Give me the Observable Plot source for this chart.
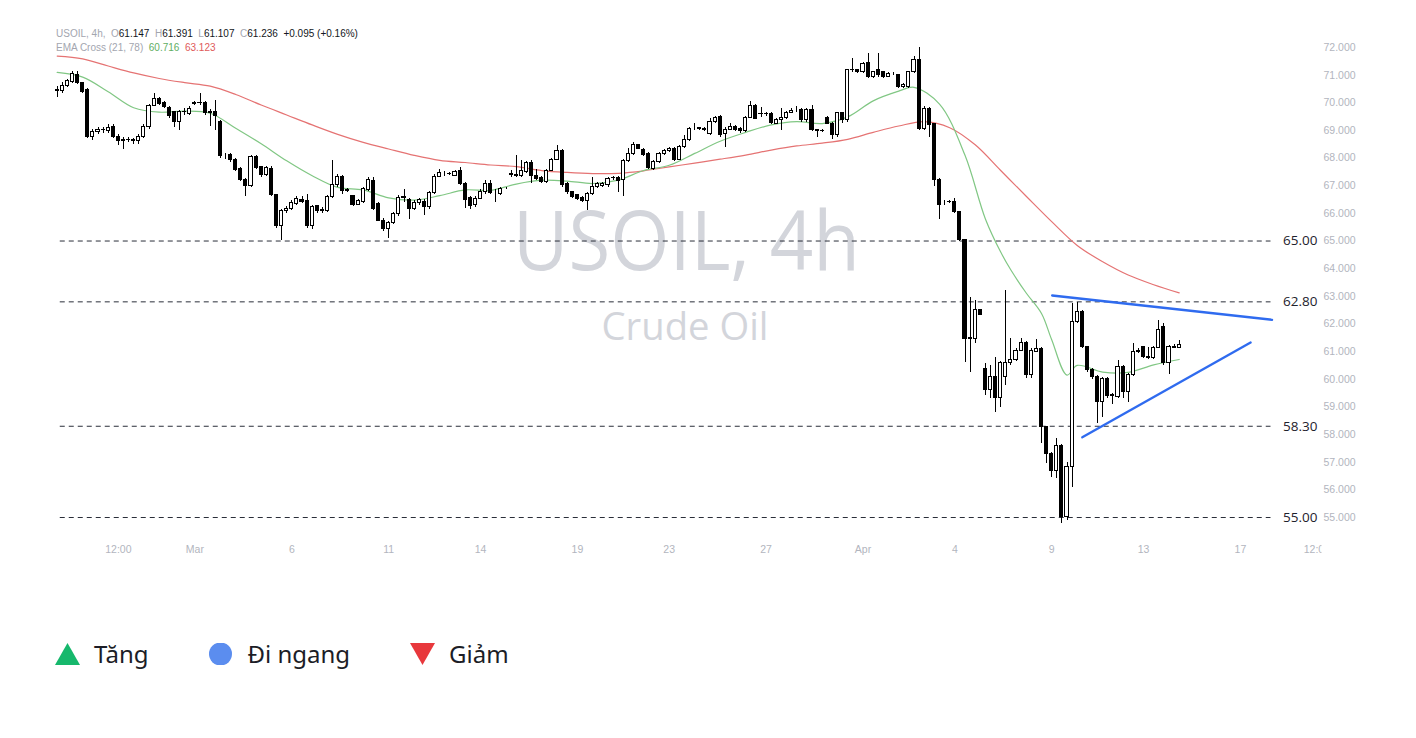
<!DOCTYPE html>
<html>
<head>
<meta charset="utf-8">
<script src="https://cdn.jsdelivr.net/npm/d3@7"></script>
<script src="https://cdn.jsdelivr.net/npm/@observablehq/plot@0.6"></script>
<style>
  html, body { margin: 0; padding: 0; background: #fff; }
  #wrap { position: relative; width: 1416px; height: 610px; }
  #info { position: absolute; left: 56px; top: 27px; font: 10px "Liberation Sans", sans-serif; line-height: 14px; color: #a3a6af; white-space: pre; }
  #info .v { color: #131722; }
  #legend { display: flex; align-items: center; margin-top: 27px; padding-left: 55px; font-family: "Noto Sans", sans-serif; font-size: 24px; line-height: 34px; color: #1c1d26; overflow: visible; }
  #legend .item { display: flex; align-items: center; margin-right: 60px; }
  #legend svg { margin-right: 14px; display: block; }
</style>
</head>
<body>
<div id="wrap">
  <div id="chart"></div>
  <div id="info"></div>
</div>
<div id="legend"></div>
<script>
// ---- Data (USOIL 4h candles) ----
const open = [
70.42,70.44,70.62,70.75,71.02,70.72,70.45,68.78,68.95,69.0,
68.97,69.12,68.78,68.62,68.66,68.65,68.61,68.76,69.12,69.9,
70.14,69.98,69.82,69.66,69.3,69.66,69.6,69.96,69.98,70.0,
69.62,69.68,69.3,68.06,68.1,67.94,67.6,67.22,67.0,68.05,
67.67,67.4,67.62,66.68,65.53,66.1,66.16,66.35,66.5,66.44,
65.53,66.25,66.1,66.1,66.6,67.01,67.33,66.8,66.62,66.32,
66.41,66.83,67.17,66.35,65.74,65.44,65.65,65.98,66.6,66.5,
66.17,66.37,66.41,66.23,66.73,67.33,67.43,67.43,67.37,67.55,
67.07,66.56,66.29,66.53,66.77,67.05,66.77,66.71,66.89,67.4,
67.4,67.37,67.49,67.82,67.37,67.29,67.13,67.55,67.94,68.27,
67.05,66.77,66.65,66.56,66.43,66.71,66.97,67.0,67.01,67.27,
67.29,67.19,67.91,68.15,68.46,68.3,68.15,67.61,67.85,68.15,
68.25,68.33,67.94,68.4,68.64,69.08,69.09,69.06,68.88,69.3,
69.5,68.88,69.02,69.14,69.05,68.97,69.46,69.9,69.6,69.58,
69.6,69.24,69.36,69.46,69.63,69.72,69.74,69.36,69.74,69.0,
68.98,69.46,69.24,68.82,69.62,69.38,71.17,71.19,71.11,71.43,
70.93,71.17,71.11,70.95,71.03,70.99,70.56,70.56,71.11,71.53,
69.06,69.78,69.24,67.21,66.4,66.4,66.4,66.04,65.02,61.46,
61.46,62.51,60.38,59.62,60.1,59.33,60.1,60.58,60.7,61.04,
61.31,60.14,61.0,61.1,58.27,57.3,56.7,57.6,55.01,56.82,
62.07,62.43,61.16,60.32,60.1,59.17,60.02,59.41,59.35,60.44,
59.54,60.14,61.0,61.16,60.8,60.78,61.14,61.9,60.58,61.15,61.147];
const high = [
70.6,70.74,70.85,71.15,71.15,70.75,70.5,69.05,69.1,69.12,
69.2,69.2,68.85,68.75,68.75,68.7,68.85,69.2,69.95,70.35,
70.2,70.05,69.85,69.7,69.72,69.8,69.85,70.05,70.35,70.05,
69.75,70.1,69.35,68.15,68.15,68.0,67.65,67.25,68.1,68.1,
67.7,67.7,67.7,66.7,66.15,66.25,66.45,66.62,66.6,66.7,
66.3,66.3,66.2,66.65,67.93,67.4,67.38,66.9,66.65,66.5,
66.95,67.3,67.3,66.4,65.8,65.7,66.05,66.65,66.85,66.55,
66.45,66.55,66.5,66.8,67.4,67.58,67.5,67.48,67.55,67.65,
67.1,66.6,66.6,66.85,67.19,67.19,66.85,66.95,66.95,67.55,
68.1,67.9,67.88,67.9,67.6,67.32,67.6,68.0,68.46,68.3,
67.1,66.8,66.7,66.6,66.75,67.31,67.1,67.12,67.3,67.35,
67.32,67.95,68.33,68.58,68.5,68.35,68.2,67.9,68.2,68.3,
68.4,68.38,68.45,68.82,69.1,69.24,69.12,69.1,69.42,69.5,
69.55,69.1,69.25,69.18,69.1,69.5,70.06,69.95,69.84,69.65,
69.65,69.42,69.78,69.68,69.78,69.86,69.78,69.78,69.9,69.05,
69.02,69.5,69.28,69.66,69.66,71.22,71.6,71.22,71.45,71.77,
71.15,71.8,71.15,71.1,71.08,71.02,70.7,71.15,71.68,72.0,
69.85,69.82,69.26,67.25,66.45,66.48,66.53,66.08,65.05,62.96,
62.85,62.52,60.56,60.5,60.8,60.65,63.2,61.46,61.1,61.46,
61.35,61.1,61.43,61.15,58.3,57.35,57.85,57.65,57.0,62.73,
62.78,62.5,61.2,60.4,60.15,60.08,60.05,59.5,60.68,60.5,
60.2,61.28,61.1,61.2,61.16,61.2,62.13,62.0,61.22,61.25,61.391];
const low = [
70.2,70.32,70.55,70.7,70.65,70.35,68.72,68.63,68.85,68.9,
68.9,68.7,68.45,68.3,68.55,68.5,68.5,68.7,69.05,69.85,
69.9,69.78,69.45,69.1,69.0,69.55,69.55,69.9,69.9,69.55,
69.15,69.0,68.0,67.95,67.85,67.5,67.15,66.6,66.95,67.6,
67.3,67.35,66.6,65.45,65.02,66.0,66.1,66.3,66.35,65.45,
65.4,66.0,66.0,66.05,66.55,66.95,66.7,66.75,66.25,66.28,
66.35,66.8,66.1,65.7,65.35,65.08,65.6,65.9,66.4,65.77,
66.1,66.3,65.93,66.15,66.7,67.3,67.35,67.38,67.35,67.0,
66.17,66.15,66.2,66.5,66.7,66.7,66.4,66.65,66.85,67.3,
67.3,67.3,67.45,67.07,67.2,67.08,67.08,67.5,67.9,66.95,
66.7,66.55,66.45,66.38,66.1,66.65,66.9,66.95,66.95,67.2,
66.77,66.61,67.85,68.1,68.3,68.05,67.6,67.55,67.8,68.1,
68.2,67.88,67.9,68.35,68.6,69.0,69.0,68.95,68.82,69.25,
68.75,68.4,68.98,68.95,68.9,68.93,69.42,69.38,69.46,69.52,
69.2,69.2,69.0,69.4,69.6,69.65,69.3,69.3,68.95,68.76,
68.92,69.2,68.66,68.75,69.24,69.3,71.1,71.05,71.05,70.88,
70.88,70.9,70.88,70.9,70.98,70.5,70.5,70.5,71.05,69.0,
69.0,68.76,66.97,65.77,66.3,66.35,65.98,64.98,60.62,60.24,
61.28,62.3,59.41,59.29,58.81,58.99,59.77,60.5,60.65,61.0,
60.02,60.02,60.97,57.66,56.94,56.46,56.4,54.77,54.9,56.1,
62.0,61.1,60.25,60.0,58.39,58.63,59.3,59.09,59.3,59.3,
59.17,60.1,60.95,60.75,60.7,60.72,61.1,60.5,60.17,61.1,61.107];
const close = [
70.48,70.62,70.78,71.05,70.72,70.38,68.78,68.95,69.0,69.02,
69.1,68.78,68.61,68.66,68.65,68.62,68.78,69.12,69.9,70.14,
69.96,69.84,69.54,69.3,69.66,69.68,69.78,69.98,70.0,69.62,
69.68,69.54,68.06,68.06,67.92,67.58,67.22,67.0,68.03,67.65,
67.4,67.65,66.68,65.53,66.1,66.15,66.37,66.53,66.42,65.53,
66.22,66.1,66.12,66.6,67.01,67.33,66.8,66.83,66.32,66.46,
66.89,67.19,66.17,65.74,65.44,65.65,65.98,66.56,66.55,66.17,
66.37,66.47,66.23,66.73,67.33,67.45,67.43,67.42,67.49,67.07,
66.49,66.25,66.53,66.77,67.05,66.73,66.77,66.89,66.89,67.43,
67.37,67.55,67.82,67.37,67.25,67.13,67.55,67.94,68.27,67.01,
66.77,66.61,66.53,66.43,66.71,66.97,67.05,67.07,67.25,67.29,
67.17,67.91,68.15,68.46,68.34,68.1,67.65,67.85,68.15,68.27,
68.33,67.94,68.4,68.64,69.06,69.08,69.06,69.0,69.3,69.45,
68.82,69.02,69.14,69.02,68.97,69.46,69.9,69.42,69.58,69.6,
69.26,69.38,69.46,69.63,69.72,69.72,69.36,69.74,69.02,68.98,
68.97,69.24,68.82,69.62,69.38,71.17,71.19,71.11,71.41,70.93,
71.11,70.99,70.93,71.05,71.03,70.56,70.64,71.11,71.55,69.06,
69.78,69.18,67.21,66.32,66.4,66.42,66.04,65.02,61.46,61.5,
62.49,62.31,59.6,60.1,59.33,60.58,60.6,60.7,61.04,61.31,
60.14,61.04,61.1,58.27,57.3,56.7,57.6,55.01,56.82,62.07,
62.43,61.16,60.32,60.1,59.17,60.02,59.41,59.43,60.44,59.54,
60.14,60.98,61.02,60.8,60.78,61.14,61.79,60.58,61.16,61.141,61.236];

// EMA 21 / EMA 78 read at candle indices
const ema21Idx = [0,5,10,15,20,25,30,35,40,45,50,55,60,65,70,75,80,85,90,95,100,105,110,115,120,125,130,135,140,145,150,155,160,165,168,173,178,182,185,187,190,193,195,198,200,205,210,215,220];
const ema21Val = [71.1,70.93,70.4,69.82,69.66,69.7,69.62,69.08,68.52,67.9,67.36,66.94,66.85,66.56,66.48,66.64,66.85,66.83,67.06,67.2,67.17,67.08,67.2,67.55,67.74,68.17,68.61,68.93,69.2,69.32,69.25,69.49,70.07,70.42,70.56,69.95,68.1,65.8,64.6,63.95,63.12,62.38,61.43,60.15,60.5,60.26,60.25,60.52,60.716];
const ema78Idx = [0,5,10,15,20,25,30,35,40,45,50,55,60,65,70,75,80,85,90,95,100,105,110,115,120,125,130,135,140,145,150,155,160,165,170,175,180,185,190,195,200,205,210,215,220];
const ema78Val = [71.69,71.59,71.33,71.08,70.88,70.73,70.6,70.3,69.92,69.56,69.2,68.86,68.57,68.33,68.1,67.92,67.84,67.75,67.69,67.55,67.48,67.44,67.45,67.54,67.68,67.82,67.96,68.11,68.29,68.44,68.54,68.68,68.93,69.16,69.32,69.1,68.48,67.55,66.62,65.7,64.84,64.25,63.77,63.42,63.123];

// horizontal levels and trend lines (annotations)
const levels = [65.00, 62.80, 58.30, 55.00];
const upperTrendIdx = [195.1, 238.2], upperTrendVal = [63.03, 62.15];
const lowerTrendIdx = [201.0, 234.0], lowerTrendVal = [57.90, 61.33];

// axis ticks
const priceTicks = [55,56,57,58,59,60,61,62,63,64,65,66,67,68,69,70,71,72];
const timeTickIdx = [12,27,46,65,83,102,120,139,158,176,195,213,232,247];
const timeTickLabels = ["12:00","Mar","6","11","14","19","23","27","Apr","4","9","13","17","12:00"];

const symbolTitle = "USOIL, 4h";
const symbolName = "Crude Oil";
const legendItems = [
  {label: "Tăng", shape: "up", color: "#16b86c"},
  {label: "Đi ngang", shape: "circle", color: "#5b8def"},
  {label: "Giảm", shape: "down", color: "#e8383c"}
];

// ---- Build ----
const n = Math.min(open.length, high.length, low.length, close.length);
const candles = d3.range(n).map(i => ({i, o: open[i], h: high[i], l: low[i], c: close[i]}));
const ema21 = ema21Idx.map((i, k) => ({i, v: ema21Val[k]}));
const ema78 = ema78Idx.map((i, k) => ({i, v: ema78Val[k]}));
const upper = upperTrendIdx.map((i, k) => ({i, v: upperTrendVal[k]}));
const lower = lowerTrendIdx.map((i, k) => ({i, v: lowerTrendVal[k]}));
const levelStart = 0.6, levelEnd = 238;
const halfBody = 0.3;

const chart = Plot.plot({
  width: 1416,
  height: 610,
  marginTop: 0,
  marginLeft: 0,
  marginRight: 96,
  marginBottom: 70,
  style: {background: "#fff", fontFamily: "Liberation Sans, sans-serif"},
  x: {type: "linear", domain: [0, 220], range: [56.7, 1178.7]},
  y: {type: "linear", domain: [55, 72], range: [517, 47]},
  marks: [
    Plot.ruleY(levels, {y: d => d, x1: levelStart, x2: levelEnd, stroke: "#2a2e39", strokeWidth: 1, strokeDasharray: "5,4"}),
    Plot.line(ema78, {x: "i", y: "v", stroke: "#e57373", strokeWidth: 1.2, curve: "catmull-rom"}),
    Plot.line(ema21, {x: "i", y: "v", stroke: "#81c784", strokeWidth: 1.2, curve: "catmull-rom"}),
    Plot.ruleX(candles, {x: "i", y1: "l", y2: "h", stroke: "#000", strokeWidth: 1, shapeRendering: "crispEdges"}),
    Plot.rect(candles, {
      x1: d => d.i - halfBody, x2: d => d.i + halfBody,
      y1: "o", y2: "c",
      fill: d => d.c >= d.o ? "#fff" : "#000",
      stroke: "#000", strokeWidth: 1, shapeRendering: "crispEdges"
    }),
    Plot.line(upper, {x: "i", y: "v", stroke: "#2f6bef", strokeWidth: 2.4}),
    Plot.line(lower, {x: "i", y: "v", stroke: "#2f6bef", strokeWidth: 2.4}),
    Plot.text(levels, {x: levelEnd, y: d => d, text: d => d.toFixed(2), dx: 12, textAnchor: "start", fontSize: 13.5, fontFamily: "Open Sans, sans-serif", fill: "#1e222d"}),
    Plot.axisY(priceTicks, {anchor: "right", tickSize: 0, tickPadding: 3, tickFormat: d => d.toFixed(3), fontSize: 10.5, color: "#b2b5be", label: null}),
    Plot.axisX(timeTickIdx, {anchor: "bottom", tickSize: 0, tickPadding: 5, tickFormat: d => timeTickLabels[timeTickIdx.indexOf(d)], fontSize: 10.5, color: "#b2b5be", label: null})
  ]
});
document.getElementById("chart").appendChild(chart);

// watermark behind everything
const svg = d3.select(chart);
const wm = svg.insert("g", ":first-child").attr("fill", "#d3d5db").attr("font-family", "Open Sans, sans-serif").attr("text-anchor", "middle");
wm.append("text").attr("x", 686.5).attr("y", 270).attr("font-size", 83).attr("textLength", 347).attr("lengthAdjust", "spacingAndGlyphs").text(symbolTitle);
wm.append("text").attr("x", 685).attr("y", 340).attr("font-size", 38).attr("textLength", 167).attr("lengthAdjust", "spacingAndGlyphs").text(symbolName);

// clip time labels at the price-scale edge
const defs = svg.append("defs");
defs.append("clipPath").attr("id", "timeclip").append("rect").attr("x", 0).attr("y", 520).attr("width", 1321).attr("height", 60);
svg.selectAll("g[aria-label='x-axis tick label']").attr("clip-path", "url(#timeclip)");

// header info (top-left)
const last = n - 1;
const chg = close[last] - close[last - 1];
const pct = chg / close[last - 1] * 100;
const sign = v => (v >= 0 ? "+" : "");
const info = document.getElementById("info");
info.innerHTML =
  `<div>${symbolTitle},  O<span class="v">${open[last].toFixed(3)}</span>  H<span class="v">${high[last].toFixed(3)}</span>  L<span class="v">${low[last].toFixed(3)}</span>  C<span class="v">${close[last].toFixed(3)}</span>  <span class="v">${sign(chg)}${chg.toFixed(3)} (${sign(pct)}${pct.toFixed(2)}%)</span></div>` +
  `<div>EMA Cross (21, 78)  <span style="color:#5fae64">${ema21Val[ema21Val.length-1].toFixed(3)}</span>  <span style="color:#e05a5a">${ema78Val[ema78Val.length-1].toFixed(3)}</span></div>`;

// bottom legend
const legend = d3.select("#legend");
legendItems.forEach(it => {
  const item = legend.append("div").attr("class", "item");
  const s = item.append("svg").attr("width", 25).attr("height", 22);
  if (it.shape === "up") s.append("polygon").attr("points", "12.5,0 25,22 0,22").attr("fill", it.color);
  else if (it.shape === "down") s.append("polygon").attr("points", "0,0 25,0 12.5,22").attr("fill", it.color);
  else s.append("circle").attr("cx", 12.5).attr("cy", 11).attr("r", 11.5).attr("fill", it.color);
  item.append("span").text(it.label);
});
</script>
</body>
</html>
